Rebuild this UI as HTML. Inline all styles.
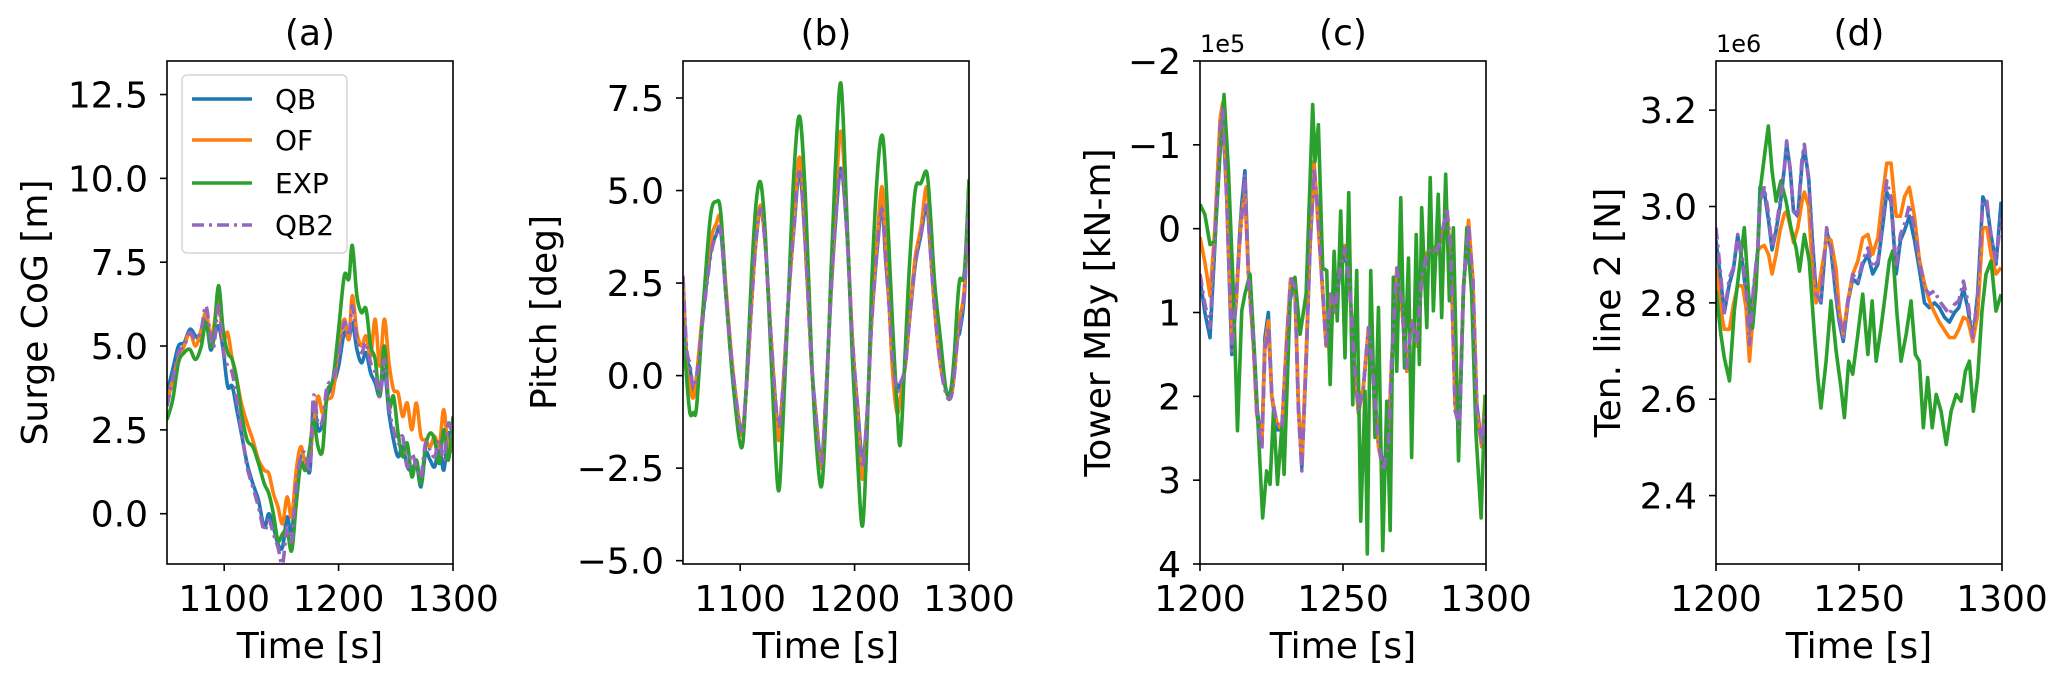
<!DOCTYPE html>
<html><head><meta charset="utf-8"><style>
html,body{margin:0;padding:0;background:#fff}
svg{display:block}
text{font-family:"DejaVu Sans","Liberation Sans",sans-serif;fill:#000}
</style></head><body>
<svg id="fig" width="2067" height="681" viewBox="0 0 2067 681" xmlns="http://www.w3.org/2000/svg"></svg>
<script>
// ---------- Panel (a) Surge CoG ----------
const tA=[1050,1055,1060,1065,1070,1075,1080,1084,1088,1091,1095,1099,1103,1107,1111,1115,1120,1125,1130,1135,1139,1143,1147,1151,1155,1159,1163,1167,1171,1175,1178,1182,1186,1190,1195,1200,1205,1209,1212,1216,1220,1224,1228,1232,1236,1240,1244,1248,1252,1256,1260,1264,1268,1272,1276,1280,1284,1288,1292,1296,1300];
const qbA=[3.6,4.3,5.0,5.1,5.5,5.3,5.2,5.8,4.9,5.2,5.6,4.9,3.8,3.8,3.1,2.4,1.5,0.9,0.4,-0.4,0.0,-0.4,-0.9,-1.0,-0.1,-0.6,1.0,1.7,1.6,1.3,3.3,2.5,2.7,3.5,3.8,4.4,5.4,5.2,5.7,4.9,4.5,4.8,4.2,3.9,3.5,4.3,3.0,2.2,1.7,2.0,1.4,1.3,1.5,0.8,1.8,1.6,1.4,2.0,1.3,2.4,2.0];
const ofA=[3.3,4.0,4.6,5.0,5.4,5.0,5.5,6.0,5.3,5.6,6.5,5.2,5.4,4.6,4.0,3.3,2.7,2.2,1.6,1.3,1.2,0.6,0.2,-0.3,0.5,-0.1,1.3,2.0,1.5,1.8,2.6,3.5,3.0,3.4,3.6,5.0,5.8,5.2,6.5,5.4,5.0,5.3,4.7,5.8,4.4,5.8,4.5,3.7,3.6,2.9,3.3,2.5,3.3,2.3,2.2,2.0,2.3,2.0,3.1,1.8,2.2];
const expA=[2.8,3.4,4.5,4.8,4.9,4.6,5.0,5.7,5.0,5.3,6.8,5.5,4.8,4.6,4.0,3.0,2.2,2.0,1.5,0.9,0.6,0.0,-0.8,-0.6,-0.5,-1.1,0.3,1.5,1.3,2.0,2.8,2.0,1.9,3.6,4.0,5.5,7.1,7.0,8.0,6.5,6.0,6.1,5.0,4.6,3.5,5.0,3.2,3.5,2.4,1.7,2.1,1.1,1.6,0.9,2.0,2.4,2.2,1.5,2.5,1.6,2.9];
const qb2A=[3.2,4.0,4.8,5.0,5.4,5.2,5.5,6.2,5.3,5.0,6.2,4.9,4.4,4.2,3.4,2.5,1.4,0.8,0.2,-0.5,-0.2,-0.6,-1.0,-1.5,-0.4,-0.8,0.9,1.7,1.8,1.3,3.5,2.7,2.8,3.8,4.0,4.7,5.7,5.3,6.2,5.2,4.8,5.1,4.5,4.2,3.5,4.6,3.2,2.5,2.1,2.3,1.4,1.8,1.4,1.1,2.1,1.9,1.7,2.2,1.6,2.7,2.1];
const yTicksA=[0,2.5,5,7.5,10,12.5];
const yTickLabelsA=["0.0","2.5","5.0","7.5","10.0","12.5"];
const xTicksAB=[1100,1200,1300];

// ---------- Panel (b) Pitch ----------
const tB=[1050,1053,1056,1059,1062,1068,1074,1079,1083,1088,1094,1101,1105,1110,1114,1118,1122,1127,1133,1137,1142,1147,1152,1157,1162,1166,1171,1175,1179,1183,1188,1193,1198,1203,1207,1211,1215,1220,1224,1227,1230,1233,1237,1240,1244,1248,1253,1258,1263,1266,1270,1275,1280,1284,1287,1290,1292,1296,1300];
const qbB=[2.6,0.6,0.2,-0.4,0.0,1.8,3.3,3.8,3.9,2.0,0.0,-1.5,-0.5,2.0,3.7,4.5,3.5,1.0,-1.4,-0.5,2.0,4.0,5.5,3.5,0.5,-1.0,-2.3,-0.5,2.0,4.0,5.6,4.0,1.0,-1.0,-2.3,-1.0,1.5,3.5,4.6,3.2,2.0,0.5,-0.3,-0.2,0.2,1.5,3.0,3.8,4.6,3.5,1.8,0.3,-0.4,-0.6,0.0,1.0,1.2,2.2,5.0];
const ofB=[2.4,0.3,-0.3,-0.6,0.0,2.0,3.6,4.1,4.2,2.2,0.0,-1.6,-0.5,2.0,3.8,4.6,3.5,1.0,-1.7,-0.6,2.0,4.2,5.9,3.8,0.5,-1.1,-2.5,-0.6,2.2,4.5,6.6,4.3,1.0,-1.2,-2.8,-1.1,1.6,3.8,5.1,3.6,2.1,0.2,-1.0,-0.6,0.2,1.6,3.2,4.0,5.1,3.7,1.8,0.3,-0.4,-0.6,0.0,1.2,1.6,2.4,5.3];
const expB=[1.5,0.0,-1.0,-1.0,-0.8,2.0,4.3,4.7,4.4,2.0,-0.3,-1.95,-0.5,2.8,4.7,5.2,3.8,0.5,-3.05,-1.5,2.0,5.5,7.0,4.8,0.8,-1.6,-3.0,-1.0,2.5,5.5,7.9,4.5,0.5,-2.5,-4.05,-1.5,2.5,5.5,6.5,5.5,3.5,1.5,-0.8,-1.85,0.5,3.0,5.0,5.2,5.5,4.5,2.5,1.0,-0.4,-0.4,0.5,2.0,2.6,2.8,5.3];
const qb2B=[2.7,0.8,0.3,-0.3,0.0,1.7,3.2,3.8,3.9,2.0,0.0,-1.5,-0.5,2.0,3.7,4.5,3.5,1.0,-1.3,-0.5,2.0,4.0,5.5,3.5,0.5,-1.0,-2.4,-0.5,2.0,4.0,5.6,4.0,1.0,-1.0,-2.5,-1.0,1.5,3.5,4.5,3.2,2.0,0.5,-0.4,-0.2,0.2,1.5,3.0,3.8,4.6,3.5,1.8,0.3,-0.5,-0.6,0.0,1.0,1.3,2.3,4.8];
const yTicksB=[-5,-2.5,0,2.5,5,7.5];
const yTickLabelsB=["\u22125.0","\u22122.5","0.0","2.5","5.0","7.5"];

// ---------- Panel (c) Tower MBy (x1e5) ----------
const tSimC=[1200,1201.7,1203.5,1205.2,1207.0,1207.9,1209.3,1211.1,1212.8,1213.8,1214.6,1215.7,1216.9,1218.7,1219.8,1221.6,1222.7,1223.9,1225.1,1226.8,1228.6,1230.3,1231.7,1233.2,1234.4,1235.6,1237.1,1238.5,1239.9,1241.0,1242.6,1244.1,1245.7,1247.2,1249.0,1250.7,1252.2,1253.9,1255.4,1257.1,1258.9,1260.6,1262.4,1264.1,1265.9,1267.0,1268.8,1270.5,1272.3,1274.0,1275.8,1277.5,1279.3,1281.0,1282.8,1284.5,1286.3,1287.7,1289.2,1290.7,1292.1,1293.9,1295.4,1296.8,1298.5,1299.7];
const qbC=[0.6,1.0,1.3,0.2,-1.1,-1.4,-0.4,1.5,0.8,0.1,-0.3,-0.69,0.5,1.4,2.1,2.6,1.3,1.0,2.0,2.4,2.4,1.4,0.6,0.7,2.1,2.85,1.6,0.2,-0.7,-0.3,0.6,1.4,0.8,1.0,0.5,0.3,0.6,1.6,2.2,1.9,1.2,1.8,2.5,2.85,2.5,1.6,0.5,0.9,1.7,1.1,1.4,0.6,0.3,0.2,0.3,0.1,-0.1,0.3,2.1,2.4,0.7,0.0,0.6,2.1,2.6,2.1];
const ofC=[0.1,0.4,0.8,0.0,-1.3,-1.5,-0.5,1.3,0.8,0.2,-0.2,-0.4,0.5,1.4,2.2,2.6,1.4,1.1,2.0,2.3,2.4,1.3,0.6,0.6,2.1,2.8,1.5,0.1,-0.8,-0.2,0.6,1.4,0.8,1.0,0.4,0.2,0.6,1.6,2.2,1.9,1.2,1.8,2.6,2.9,2.6,1.6,0.5,0.9,1.7,1.1,1.4,0.6,0.3,0.2,0.3,0.1,-0.2,0.3,2.1,2.3,0.7,-0.1,0.6,2.2,2.6,2.0];
const qb2C=[0.54,0.9,1.18,0.11,-1.2,-1.44,-0.41,1.46,0.74,0.19,-0.13,-0.65,0.58,1.38,2.17,2.65,1.46,1.18,1.98,2.33,2.37,1.38,0.58,0.7,2.17,2.89,1.58,0.19,-0.73,-0.29,0.58,1.38,0.78,0.98,0.47,0.23,0.62,1.58,2.17,1.9,1.18,1.78,2.57,2.89,2.57,1.58,0.47,0.86,1.66,1.1,1.38,0.58,0.31,0.23,0.27,0.07,-0.25,0.23,2.17,2.37,0.7,-0.05,0.62,2.17,2.57,2.17];
const tExpC=[1200,1201.7,1203.5,1205.2,1207.0,1208.4,1209.9,1211.7,1213.1,1214.6,1215.7,1217.5,1219.2,1221.9,1223.3,1224.5,1225.7,1227.1,1228.6,1229.4,1231.5,1233.2,1235.0,1237.1,1239.4,1240.2,1241.4,1242.9,1244.3,1245.5,1246.9,1248.0,1249.2,1250.7,1252.0,1253.4,1254.8,1256.2,1257.7,1258.5,1259.7,1261.2,1262.4,1263.9,1265.3,1266.5,1267.6,1268.8,1270.2,1271.5,1272.9,1274.0,1275.6,1276.7,1277.5,1279.3,1280.5,1281.6,1283.3,1284.5,1285.9,1287.2,1288.6,1290.4,1292.1,1293.3,1295.0,1296.5,1298.3,1299.7];
const expC=[-0.29,-0.17,0.19,0.15,-0.89,-1.6,-0.73,0.78,2.41,0.98,0.78,0.54,1.58,3.45,2.89,3.05,2.17,3.05,2.37,2.93,0.86,0.58,1.26,0.78,-1.48,-0.8,-1.24,0.47,0.5,1.86,0.27,1.1,-0.21,1.54,-0.43,2.1,0.5,3.49,1.94,3.88,0.5,2.49,0.94,3.84,2.06,3.6,0.58,1.7,-0.37,1.66,0.35,2.73,0.07,1.62,-0.25,1.18,-0.61,0.98,-0.41,1.06,-0.65,0.86,-0.01,2.77,0.78,-0.01,0.78,2.45,3.45,1.98];
const yTicksC=[-2,-1,0,1,2,3,4];
const yTickLabelsC=["\u22122","\u22121","0","1","2","3","4"];
const xTicksCD=[1200,1250,1300];

// ---------- Panel (d) Ten. line 2 (x1e6) ----------
const tSimD=[1200,1201.4,1202.9,1204.7,1206.1,1207.6,1209.3,1210.5,1211.7,1213.1,1214.6,1215.4,1216.9,1218.4,1219.6,1221.0,1222.4,1223.9,1224.7,1225.9,1227.1,1228.6,1230.1,1230.9,1232.4,1233.6,1235.0,1236.7,1238.7,1240.2,1242.0,1243.1,1244.5,1246.1,1247.8,1249.6,1251.3,1253.1,1254.8,1256.6,1258.3,1259.7,1261.2,1263.0,1264.5,1265.9,1267.6,1269.4,1271.1,1272.9,1274.6,1276.4,1278.1,1279.9,1281.6,1283.4,1284.9,1286.5,1288.0,1289.8,1291.5,1293.3,1294.7,1296.2,1297.9,1299.7];
const qbD=[2.93,2.86,2.78,2.84,2.87,2.94,2.88,2.82,2.73,2.82,2.91,3.04,3.03,2.97,2.91,2.95,3.00,3.08,3.13,3.08,2.99,2.98,3.09,3.12,3.06,2.94,2.82,2.80,2.95,2.91,2.81,2.76,2.72,2.80,2.85,2.84,2.88,2.90,2.86,2.88,2.96,3.03,3.01,2.86,2.93,2.95,2.98,2.93,2.87,2.80,2.79,2.80,2.79,2.77,2.76,2.78,2.79,2.83,2.79,2.72,2.82,3.02,3.00,2.94,2.88,3.01];
const ofD=[2.873,2.795,2.745,2.745,2.797,2.836,2.835,2.79,2.679,2.783,2.908,2.915,2.919,2.90,2.86,2.90,2.95,2.985,2.99,2.96,2.925,2.956,3.011,3.03,3.0,2.88,2.80,2.86,2.935,2.93,2.87,2.783,2.735,2.804,2.859,2.887,2.935,2.942,2.901,2.935,3.025,3.09,3.09,2.98,2.98,3.02,3.04,2.98,2.89,2.84,2.804,2.78,2.76,2.743,2.728,2.728,2.745,2.77,2.765,2.72,2.776,2.956,2.956,2.90,2.86,2.873];
const qb2D=[2.956,2.873,2.776,2.852,2.873,2.942,2.887,2.831,2.714,2.831,2.914,3.011,3.039,2.984,2.914,2.956,3.011,3.080,3.136,3.080,2.991,2.984,3.101,3.129,3.053,2.942,2.818,2.804,2.956,2.914,2.818,2.769,2.728,2.804,2.859,2.845,2.887,2.914,2.873,2.887,2.977,3.053,3.018,2.873,2.942,2.963,3.004,2.956,2.887,2.831,2.818,2.825,2.804,2.790,2.776,2.797,2.804,2.845,2.804,2.728,2.818,3.011,3.011,2.935,2.887,2.977];
const tExpD=[1200,1201.7,1202.9,1204.7,1206.4,1208.2,1209.9,1211.4,1212.8,1214.0,1215.7,1217.3,1218.3,1219.6,1221.0,1222.7,1224.5,1226.2,1228.0,1229.2,1230.9,1232.6,1234.4,1235.6,1236.7,1238.5,1240.2,1242.0,1243.7,1244.9,1246.4,1247.8,1249.6,1251.3,1253.1,1254.6,1256.0,1257.7,1259.2,1260.6,1261.8,1263.2,1264.7,1266.5,1268.2,1269.7,1271.1,1272.5,1274.0,1275.6,1277.0,1278.7,1280.5,1282.2,1284.0,1285.7,1287.2,1288.6,1290.0,1291.5,1293.0,1294.4,1296.2,1297.9,1299.7];
const expD=[2.825,2.735,2.686,2.638,2.783,2.873,2.956,2.818,2.748,2.831,3.046,3.122,3.167,3.074,3.011,3.053,3.011,2.956,2.914,2.866,2.942,2.887,2.735,2.645,2.582,2.679,2.804,2.7,2.624,2.562,2.679,2.652,2.735,2.818,2.693,2.804,2.679,2.748,2.818,2.887,2.908,2.783,2.679,2.735,2.804,2.693,2.679,2.541,2.645,2.541,2.61,2.575,2.506,2.575,2.61,2.596,2.658,2.679,2.575,2.645,2.783,2.859,2.887,2.783,2.818];
const yTicksD=[2.4,2.6,2.8,3.0,3.2];
const yTickLabelsD=["2.4","2.6","2.8","3.0","3.2"];

const seriesNames=["QB","OF","EXP","QB2"];

// ---------- layout ----------
const NS="http://www.w3.org/2000/svg";
const svg=document.getElementById('fig');
const TOP=61,H=503,W=286;
const COLORS={QB:"#1f77b4",OF:"#ff7f0e",EXP:"#2ca02c",QB2:"#9467bd"};
function mk(tag,attrs,parent){const e=document.createElementNS(NS,tag);for(const k in attrs)e.setAttribute(k,attrs[k]);(parent||svg).appendChild(e);return e;}

const panels=[
 {id:"a",left:167,xmin:1050,xmax:1300,ymin:-1.5,ymax:13.5,inv:false,xt:xTicksAB,yt:yTicksA,ytl:yTickLabelsA,ylabel:"Surge CoG [m]",ylx:47,smooth:true,
  series:[[tA,qbA],[tA,ofA],[tA,expA],[tA,qb2A]]},
 {id:"b",left:683,xmin:1050,xmax:1300,ymin:-5.09,ymax:8.5,inv:false,xt:xTicksAB,yt:yTicksB,ytl:yTickLabelsB,ylabel:"Pitch [deg]",ylx:556,smooth:true,
  series:[[tB,qbB],[tB,ofB],[tB,expB],[tB,qb2B]]},
 {id:"c",left:1200,xmin:1200,xmax:1300,ymin:-2,ymax:4,inv:true,xt:xTicksCD,yt:yTicksC,ytl:yTickLabelsC,ylabel:"Tower MBy [kN-m]",ylx:1110,smooth:false,offset:"1e5",
  series:[[tSimC,qbC],[tSimC,ofC],[tExpC,expC],[tSimC,qb2C]]},
 {id:"d",left:1716,xmin:1200,xmax:1300,ymin:2.258,ymax:3.302,inv:false,xt:xTicksCD,yt:yTicksD,ytl:yTickLabelsD,ylabel:"Ten. line 2 [N]",ylx:1620,smooth:false,offset:"1e6",
  series:[[tSimD,qbD],[tSimD,ofD],[tExpD,expD],[tSimD,qb2D]]}
];

function pathFrom(pts,smooth){
  if(!smooth){return pts.map((p,i)=>(i?"L":"M")+p[0].toFixed(2)+","+p[1].toFixed(2)).join("");}
  let d="M"+pts[0][0].toFixed(2)+","+pts[0][1].toFixed(2);
  for(let i=0;i<pts.length-1;i++){
    const p0=pts[i-1]||pts[i],p1=pts[i],p2=pts[i+1],p3=pts[i+2]||p2;
    const c1=[p1[0]+(p2[0]-p0[0])/6,p1[1]+(p2[1]-p0[1])/6];
    const c2=[p2[0]-(p3[0]-p1[0])/6,p2[1]-(p3[1]-p1[1])/6];
    d+="C"+c1[0].toFixed(2)+","+c1[1].toFixed(2)+" "+c2[0].toFixed(2)+","+c2[1].toFixed(2)+" "+p2[0].toFixed(2)+","+p2[1].toFixed(2);
  }
  return d;
}

panels.forEach(P=>{
  const g=mk('g',{});
  
  
  const xs=t=>P.left+(t-P.xmin)/(P.xmax-P.xmin)*W;
  const ys=v=>P.inv?TOP+(v-P.ymin)/(P.ymax-P.ymin)*H:TOP+(P.ymax-v)/(P.ymax-P.ymin)*H;
  const cp=mk('clipPath',{id:'clip-'+P.id},g);
  mk('rect',{x:P.left,y:TOP,width:W,height:H},cp);
  const lines=mk('g',{'clip-path':'url(#clip-'+P.id+')'},g);
  P.series.forEach((s,i)=>{
    const name=seriesNames[i];
    const pts=s[0].map((t,k)=>[xs(t),ys(s[1][k])]);
    const attrs={d:pathFrom(pts,P.smooth),fill:'none',stroke:COLORS[name],'stroke-width':3.6,'stroke-linejoin':'round'};
    if(name==="QB2"){attrs['stroke-dasharray']='12 5 3 5';}
    const p=mk('path',attrs,lines);
    
    
  });
  const frame=mk('rect',{x:P.left,y:TOP,width:W,height:H,fill:'none',stroke:'#000','stroke-width':1.6},g);
  
  
  P.xt.forEach(t=>{
    const x=xs(t);
    mk('line',{x1:x,y1:TOP+H,x2:x,y2:TOP+H+7,stroke:'#000','stroke-width':1.6},g);
    const tx=mk('text',{x:x,y:611,'font-size':36,'text-anchor':'middle'},g);
    tx.textContent=t;
    
    
  });
  P.yt.forEach((v,i)=>{
    const y=ys(v);
    mk('line',{x1:P.left-7,y1:y,x2:P.left,y2:y,stroke:'#000','stroke-width':1.6},g);
    const tx=mk('text',{x:P.left-19,y:y+13,'font-size':36,'text-anchor':'end'},g);
    tx.textContent=P.ytl[i];
    
    
  });
  const ttl=mk('text',{x:P.left+W/2,y:45,'font-size':36,'text-anchor':'middle'},g);
  ttl.textContent='('+P.id+')';
  
  
  const xl=mk('text',{x:P.left+W/2,y:658,'font-size':36,'text-anchor':'middle'},g);
  xl.textContent='Time [s]';
  
  
  const yl=mk('text',{x:P.ylx,y:TOP+H/2,'font-size':36,'text-anchor':'middle',transform:'rotate(-90 '+P.ylx+' '+(TOP+H/2)+')'},g);
  yl.textContent=P.ylabel;
  
  
  if(P.offset){
    const o=mk('text',{x:P.left,y:52,'font-size':24,'text-anchor':'start'},g);
    o.textContent=P.offset;
    
    
  }
  if(P.id==="a"){
    const lg=mk('g',{},g);
    
    
    mk('rect',{x:182,y:75,width:165,height:178,rx:5,fill:'#fff','fill-opacity':0.8,stroke:'#d6d6d6','stroke-width':1.5},lg);
    const ly=[99,140,183,225];
    seriesNames.forEach((n,i)=>{
      const e=mk('g',{},lg);
      
      
      const a={x1:192,y1:ly[i],x2:252,y2:ly[i],stroke:COLORS[n],'stroke-width':3.6};
      if(n==="QB2")a['stroke-dasharray']='12 5 3 5';
      mk('line',a,e);
      const t=mk('text',{x:275,y:ly[i]+10,'font-size':28},e);
      t.textContent=n;
    });
  }
});
</script>
</body></html>
